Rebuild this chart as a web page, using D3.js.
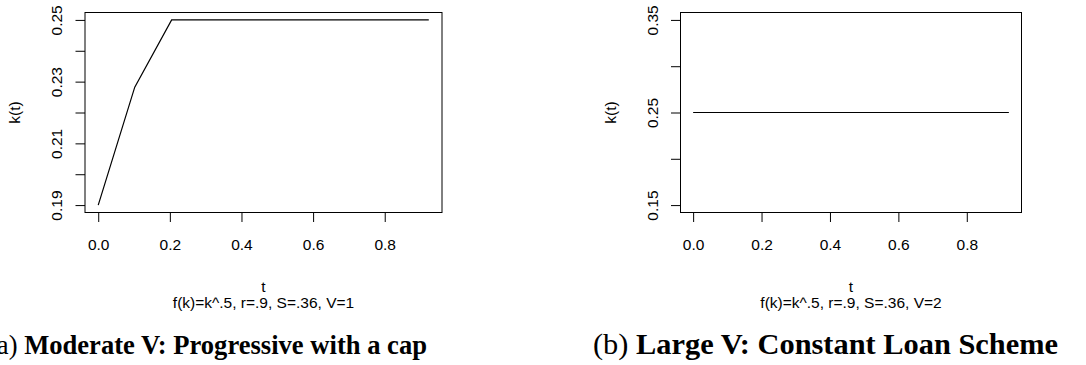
<!DOCTYPE html>
<html>
<head>
<meta charset="utf-8">
<script src="https://cdn.jsdelivr.net/npm/d3@7"></script>
<style>
  html, body { margin: 0; padding: 0; background: #fff; }
  svg { display: block; }
  .ax text { font-family: "Liberation Sans", Arial, Helvetica, sans-serif; font-size: 15.5px; fill: #000; }
  .lab { font-family: "Liberation Sans", Arial, Helvetica, sans-serif; font-size: 15.5px; fill: #000; }
  .cap { font-family: "Liberation Serif", "Times New Roman", serif; fill: #000; }
</style>
</head>
<body>
<div id="chart"></div>
<script>
// panel (a): moderate V
var tA = [0, 0.102, 0.205, 0.923]
  , kA = [0.19, 0.2282, 0.25, 0.25]
  , yTicksA = [0.19, 0.20, 0.21, 0.22, 0.23, 0.24, 0.25]
  , yLabelsA = [0.19, 0.21, 0.23, 0.25]
  // panel (b): large V
  , tB = [0, 0.923]
  , kB = [0.25, 0.25]
  , yTicksB = [0.15, 0.20, 0.25, 0.30, 0.35]
  , yLabelsB = [0.15, 0.25, 0.35]
  , xTicks = [0, 0.2, 0.4, 0.6, 0.8]
  , subtitles = ["f(k)=k^.5, r=.9, S=.36, V=1", "f(k)=k^.5, r=.9, S=.36, V=2"]
  , captionTags = ["(a)", "(b)"]
  , captionTexts = ["Moderate V: Progressive with a cap", "Large V: Constant Loan Scheme"]
  ;

var width = 1086
  , height = 365
  , plotTop = 12.5
  , plotBottom = 212.5
  , svg = d3.select("#chart").append("svg")
      .attr("width", width)
      .attr("height", height)
  ;

var panels = [
  { t: tA, k: kA, yTicks: yTicksA, yLabels: yLabelsA,
    left: 85, right: 442, capStart: -12, capEnd: 427 },
  { t: tB, k: kB, yTicks: yTicksB, yLabels: yLabelsB,
    left: 680.5, right: 1021.5, capStart: 593, capEnd: 1058 }
];

// R style: extend data range by 4% each side
function pad (ext) {
  var d = (ext[1] - ext[0]) * 0.04;
  return [ext[0] - d, ext[1] + d];
}

panels.forEach(function (p, i) {
  var yExt = d3.extent(p.k)
    , g = svg.append("g")
    ;

  // constant series: R widens to +-40%
  if (yExt[0] === yExt[1]) yExt = [yExt[0] * 0.6, yExt[1] * 1.4];

  var x = d3.scaleLinear().domain(pad(d3.extent(p.t))).range([p.left, p.right])
    , y = d3.scaleLinear().domain(pad(yExt)).range([plotBottom, plotTop])
    , mid = (p.left + p.right) / 2
    , fmt = d3.format(".2f")
    ;

  var xAxis = g.append("g")
    .attr("class", "ax")
    .attr("transform", "translate(0," + plotBottom + ")")
    .call(d3.axisBottom(x).tickValues(xTicks).tickSize(9.5).tickPadding(16.5)
      .tickFormat(d3.format(".1f")));
  xAxis.select(".domain").remove();
  xAxis.selectAll("line").attr("stroke", "#000");
  xAxis.selectAll("text").attr("dy", "0.71em");

  var yAxis = g.append("g")
    .attr("class", "ax")
    .attr("transform", "translate(" + p.left + ",0)")
    .call(d3.axisLeft(y).tickValues(p.yTicks).tickSize(9.5)
      .tickFormat(function (d) {
        var hit = p.yLabels.some(function (v) { return Math.abs(v - d) < 1e-9; });
        return hit ? fmt(d) : "";
      }));
  yAxis.select(".domain").remove();
  yAxis.selectAll("line").attr("stroke", "#000");
  yAxis.selectAll("text")
    .attr("transform", "rotate(-90)")
    .attr("x", 0)
    .attr("y", -23)
    .attr("dy", 0)
    .attr("text-anchor", "middle");

  // plot box
  g.append("rect")
    .attr("x", p.left)
    .attr("y", plotTop)
    .attr("width", p.right - p.left)
    .attr("height", plotBottom - plotTop)
    .attr("fill", "none")
    .attr("stroke", "#000")
    .attr("stroke-width", 1);

  var line = d3.line()
    .x(function (d) { return x(d[0]); })
    .y(function (d) { return y(d[1]); });

  g.append("path")
    .datum(d3.zip(p.t, p.k))
    .attr("d", line)
    .attr("fill", "none")
    .attr("stroke", "#000")
    .attr("stroke-width", 1.2);

  // axis titles
  g.append("text")
    .attr("class", "lab")
    .attr("transform", "translate(" + (p.left - 65) + "," + ((plotTop + plotBottom) / 2) + ") rotate(-90)")
    .attr("text-anchor", "middle")
    .text("k(t)");

  g.append("text")
    .attr("class", "lab")
    .attr("x", mid)
    .attr("y", 291.5)
    .attr("text-anchor", "middle")
    .text("t");

  g.append("text")
    .attr("class", "lab")
    .attr("x", mid)
    .attr("y", 307.5)
    .attr("text-anchor", "middle")
    .text(subtitles[i]);

  // subfigure caption, font sized to span the same width as the reference
  var cap = svg.append("text")
    .attr("class", "cap")
    .attr("x", p.capStart)
    .attr("y", 354)
    .style("font-size", "24px");
  cap.append("tspan").text(captionTags[i] + " ");
  cap.append("tspan").attr("font-weight", "bold").text(captionTexts[i]);
  var w = cap.node().getComputedTextLength();
  cap.style("font-size", (24 * (p.capEnd - p.capStart) / w) + "px");
});
</script>
</body>
</html>
